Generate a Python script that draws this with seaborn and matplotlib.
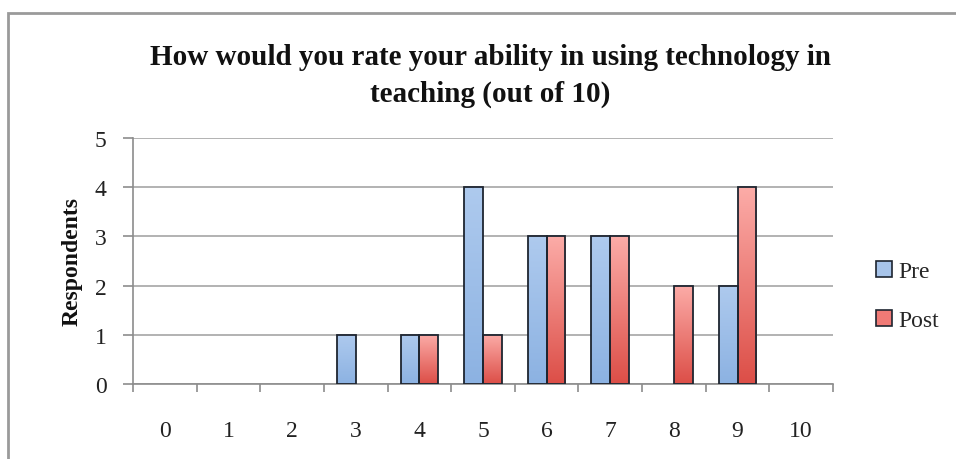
import numpy as np
import pandas as pd
import matplotlib
matplotlib.use("Agg")
import matplotlib.pyplot as plt
import seaborn as sns
from matplotlib.colors import LinearSegmentedColormap
from matplotlib.patches import Rectangle
from matplotlib.lines import Line2D

ratings = [0, 1, 2, 3, 4, 5, 6, 7, 8, 9, 10]
pre = [0, 0, 0, 1, 1, 4, 3, 3, 0, 2, 0]
post = [0, 0, 0, 0, 1, 1, 3, 3, 2, 4, 0]
series = ["Pre", "Post"]
title = "How would you rate your ability in using technology in\nteaching (out of 10)"
ylabel = "Respondents"

df = pd.DataFrame({
    "Rating": [str(r) for r in ratings] * 2,
    "Respondents": pre + post,
    "Series": [series[0]] * len(ratings) + [series[1]] * len(ratings),
})

sns.set_theme(style="white")
plt.rcParams["font.family"] = ["Liberation Serif", "DejaVu Serif"]

fig = plt.figure(figsize=(9.56, 4.6), dpi=100)
ax = fig.add_axes([0.1391, 0.163, 0.7322, 0.535])

blue = "#a7c4ea"
red = "#f08a86"
sns.barplot(data=df, x="Rating", y="Respondents", hue="Series",
            order=[str(r) for r in ratings], hue_order=series,
            palette=[blue, red], width=0.59, edgecolor="#1e2530",
            linewidth=1.3, ax=ax, legend=False, saturation=1)

cmaps = [
    LinearSegmentedColormap.from_list("b", ["#8cb2e2", "#aecaee"]),
    LinearSegmentedColormap.from_list("r", ["#dc4e47", "#fcaca8"]),
]
grad = np.linspace(0, 1, 256).reshape(-1, 1)
for cont, cm in zip(ax.containers, cmaps):
    for p in cont.patches:
        h = p.get_height()
        if h <= 0:
            p.set_visible(False)
            continue
        x0 = p.get_x()
        w = p.get_width()
        im = ax.imshow(grad, cmap=cm, origin="lower", aspect="auto",
                       extent=[x0, x0 + w, 0, h], zorder=p.get_zorder() - 0.01)
        im.set_clip_path(p)
        p.set_facecolor("none")
        p.set_zorder(3)

ax.set_xlim(-0.5, 10.5)
ax.set_ylim(0, 5)
ax.set_yticks([0, 1, 2, 3, 4, 5])
ax.yaxis.grid(True, color="#a6a6a6", linewidth=1.2)
ax.set_axisbelow(True)
for s in ["top", "right"]:
    ax.spines[s].set_visible(False)
ax.spines["left"].set_color("#8c8c8c")
ax.spines["bottom"].set_color("#8c8c8c")
ax.spines["left"].set_linewidth(1.2)
ax.spines["bottom"].set_linewidth(1.2)
ax.tick_params(axis="y", which="major", length=7, color="#8c8c8c", width=1.2,
               labelsize=17, pad=12, left=True, direction="out")
ax.tick_params(axis="x", which="major", length=0, labelsize=17, pad=26)
ax.set_xticks(np.arange(-0.5, 11.0, 1.0), minor=True)
ax.tick_params(axis="x", which="minor", length=6, color="#8c8c8c", width=1.2,
               bottom=True, direction="out")
for lbl in ax.get_xticklabels() + ax.get_yticklabels():
    lbl.set_color("#222222")
ax.set_xlabel("")
ax.set_ylabel(ylabel, fontsize=17, fontweight="bold", labelpad=9, color="#111111")

fig.text(0.513, 0.835, title, ha="center", va="center", fontsize=21,
         fontweight="bold", color="#111111", linespacing=1.45)

handles = [
    Line2D([], [], marker="s", linestyle="none", markersize=11,
           markerfacecolor="#a7c4ea", markeredgecolor="#1e2530", markeredgewidth=1.2),
    Line2D([], [], marker="s", linestyle="none", markersize=11,
           markerfacecolor="#f07a76", markeredgecolor="#1e2530", markeredgewidth=1.2),
]
fig.legend(handles, series, loc="center left", bbox_to_anchor=(0.89, 0.355),
           frameon=False, fontsize=17, handletextpad=0.1, labelspacing=1.15,
           handlelength=1.0)

border = Rectangle((8 / 956, -0.1), 1.2, (460 - 14) / 460 + 0.1,
                   transform=fig.transFigure, fill=False,
                   edgecolor="#9a9a9a", linewidth=2)
fig.patches.append(border)

fig.savefig("out.png", dpi=100)
